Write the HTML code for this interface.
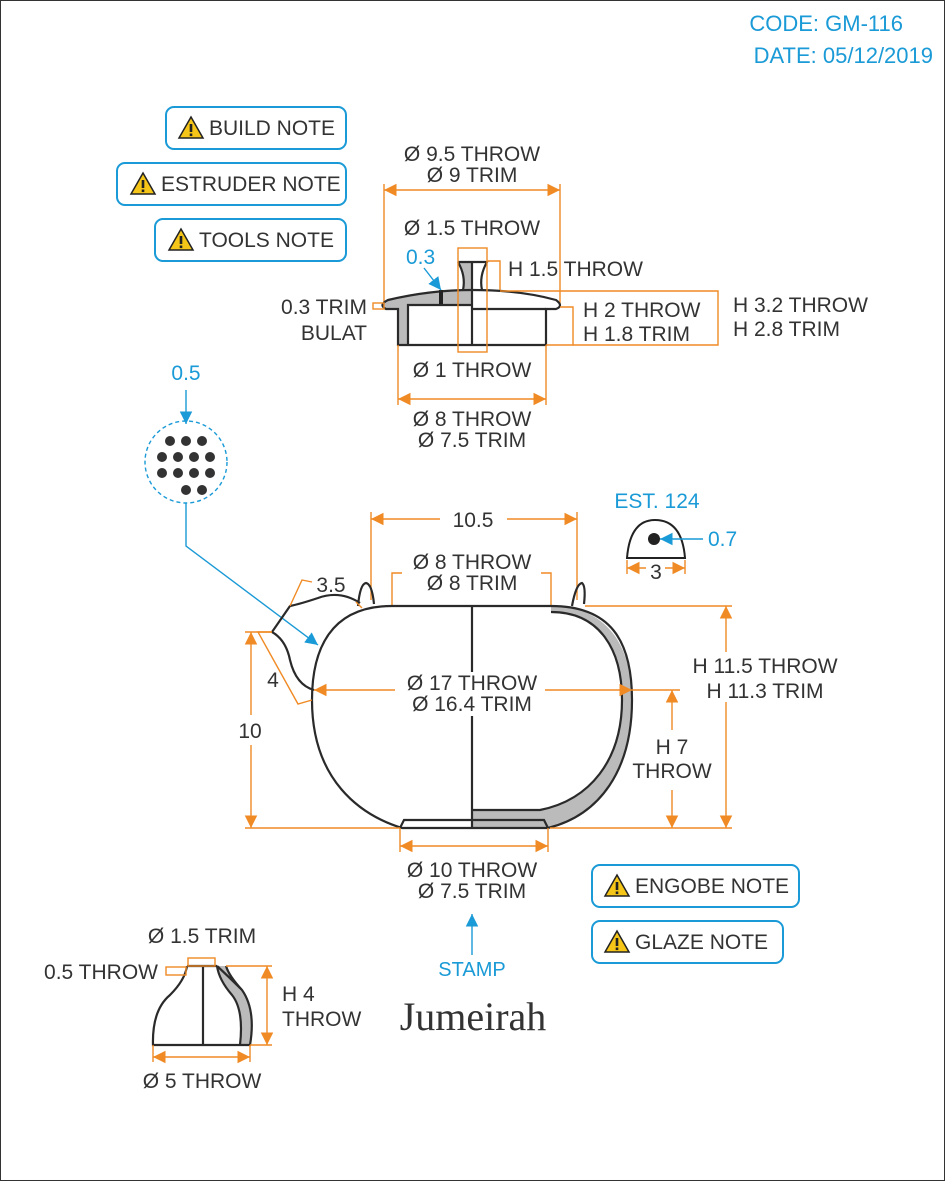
<!DOCTYPE html>
<html><head><meta charset="utf-8"><style>
html,body{margin:0;padding:0;background:#fff}
svg{display:block}
text{font-family:"Liberation Sans Narrow","Liberation Sans",sans-serif;font-size:21px;fill:#333}
.b{fill:#1a9ad6}
.o{stroke:#f08a24;stroke-width:1.4;fill:none}
.k{stroke:#2a2a2a;stroke-width:2.2;fill:none}
.bl{stroke:#1a9ad6;stroke-width:1.4;fill:none}
.nb{fill:#fff;stroke:#1a9ad6;stroke-width:2}
</style></head><body>
<svg width="946" height="1182" viewBox="0 0 946 1182">
<defs>
<marker id="ao" viewBox="0 0 10 10" refX="10" refY="5" markerWidth="9" markerHeight="9" orient="auto-start-reverse"><path d="M0,0 L10,5 L0,10 z" fill="#f08a24"/></marker>
<marker id="ab" viewBox="0 0 10 10" refX="10" refY="5" markerWidth="9" markerHeight="9" orient="auto-start-reverse"><path d="M0,0 L10,5 L0,10 z" fill="#1a9ad6"/></marker>
<g id="warn"><path d="M0,-11 L12,10 L-12,10 Z" fill="#f5c518" stroke="#222" stroke-width="1.5"/><rect x="-1.3" y="-4" width="2.6" height="8" fill="#222"/><rect x="-1.3" y="5.5" width="2.6" height="2.6" fill="#222"/></g>
</defs>
<rect x="0.5" y="0.5" width="944" height="1180" fill="#fff" stroke="#333" stroke-width="1"/>

<g>
<text x="903" y="31" text-anchor="end" class="b" style="font-size:22px">CODE: GM-116</text>
<text x="933" y="63" text-anchor="end" class="b" style="font-size:22px">DATE: 05/12/2019</text>
</g>

<g><rect class="nb" x="166" y="107" width="180" height="42" rx="8"/><use href="#warn" x="191" y="128"/><text x="209" y="135">BUILD NOTE</text></g>
<g><rect class="nb" x="117" y="163" width="229" height="42" rx="8"/><use href="#warn" x="143" y="184"/><text x="161" y="191">ESTRUDER NOTE</text></g>
<g><rect class="nb" x="155" y="219" width="191" height="42" rx="8"/><use href="#warn" x="181" y="240"/><text x="199" y="247">TOOLS NOTE</text></g>
<g><rect class="nb" x="592" y="865" width="207" height="42" rx="8"/><use href="#warn" x="617" y="886"/><text x="635" y="893">ENGOBE NOTE</text></g>
<g><rect class="nb" x="592" y="921" width="191" height="42" rx="8"/><use href="#warn" x="617" y="942"/><text x="635" y="949">GLAZE NOTE</text></g>

<!-- LID -->
<g>
<text x="472" y="161" text-anchor="middle">Ø 9.5 THROW</text>
<text x="472" y="182" text-anchor="middle">Ø 9 TRIM</text>
<line class="o" x1="384" y1="190" x2="560" y2="190" marker-start="url(#ao)" marker-end="url(#ao)"/>
<line class="o" x1="384" y1="184" x2="384" y2="305"/><line class="o" x1="560" y1="184" x2="560" y2="305"/>
<text x="472" y="235" text-anchor="middle">Ø 1.5 THROW</text>
<path d="M408,305 L408,345 L398,345 L398,309 L386,309 Q380,306 386,301 Q420,291 455,290 L463,290 Q466,276 458,262 L472,262 L472,305 Z" fill="#bbb"/>
<path class="k" d="M386,309 Q378,305 388,300 Q430,290 472,290 Q520,290 556,300 Q564,306 556,309 L546,309 L546,345 L398,345 L398,309 Z"/>
<path class="k" d="M408,345 L408,305 L472,305 M472,262 L472,345 M472,309 L546,309"/>
<path class="k" d="M458,262 L487,262 Q479,276 482,290 M458,262 Q466,276 463,290"/>
<rect x="439" y="290" width="4" height="14" fill="#222"/>
<rect class="o" x="458" y="248" width="29" height="104"/>
<path class="o" d="M487,261 L500,261 L500,290"/>
<text x="508" y="276">H 1.5 THROW</text>
<text x="406" y="264" class="b">0.3</text>
<line class="bl" x1="424" y1="268" x2="441" y2="290" marker-end="url(#ab)"/>
<rect class="o" x="373" y="303" width="11" height="6"/>
<text x="367" y="314" text-anchor="end">0.3 TRIM</text>
<text x="367" y="340" text-anchor="end">BULAT</text>
<path class="o" d="M560,307 L573,307 L573,345 L546,345"/>
<path class="o" d="M500,291 L718,291 L718,345 L573,345"/>
<text x="583" y="317">H 2 THROW</text>
<text x="583" y="341">H 1.8 TRIM</text>
<text x="733" y="312">H 3.2 THROW</text>
<text x="733" y="336">H 2.8 TRIM</text>
<line class="o" x1="398" y1="345" x2="398" y2="405"/><line class="o" x1="546" y1="345" x2="546" y2="405"/>
<text x="472" y="377" text-anchor="middle">Ø 1 THROW</text>
<line class="o" x1="398" y1="399" x2="546" y2="399" marker-start="url(#ao)" marker-end="url(#ao)"/>
<text x="472" y="426" text-anchor="middle">Ø 8 THROW</text>
<text x="472" y="447" text-anchor="middle">Ø 7.5 TRIM</text>
</g>

<!-- STRAINER -->
<g>
<text x="186" y="380" text-anchor="middle" class="b">0.5</text>
<line class="bl" x1="186" y1="390" x2="186" y2="424" marker-end="url(#ab)"/>
<circle cx="186" cy="462" r="41" fill="none" stroke="#1a9ad6" stroke-width="1.4" stroke-dasharray="4 3"/>
<g fill="#333">
<circle cx="170" cy="441" r="5"/><circle cx="186" cy="441" r="5"/><circle cx="202" cy="441" r="5"/>
<circle cx="162" cy="457" r="5"/><circle cx="178" cy="457" r="5"/><circle cx="194" cy="457" r="5"/><circle cx="210" cy="457" r="5"/>
<circle cx="162" cy="473" r="5"/><circle cx="178" cy="473" r="5"/><circle cx="194" cy="473" r="5"/><circle cx="210" cy="473" r="5"/>
<circle cx="186" cy="490" r="5"/><circle cx="202" cy="490" r="5"/>
</g>
<path class="bl" d="M186,503 L186,546 L318,645" marker-end="url(#ab)"/>
</g>

<!-- TEAPOT -->
<g>
<text x="473" y="527" text-anchor="middle">10.5</text>
<line class="o" x1="371" y1="519" x2="440" y2="519" marker-start="url(#ao)"/><line class="o" x1="507" y1="519" x2="577" y2="519" marker-end="url(#ao)"/>
<line class="o" x1="371" y1="512" x2="371" y2="600"/><line class="o" x1="577" y1="512" x2="577" y2="600"/>
<text x="472" y="569" text-anchor="middle">Ø 8 THROW</text>
<text x="472" y="590" text-anchor="middle">Ø 8 TRIM</text>
<path class="o" d="M392,606 L392,573 L402,573 M551,606 L551,573 L541,573"/>
<path d="M551,606 C610,606 632,650 632,700 C632,770 600,815 548,828 L472,828 L472,810 L540,810 C590,800 622,760 622,700 C622,650 600,612 551,612 Z" fill="#bbb"/>
<path class="k" d="M392,606 C330,606 312,650 312,700 C312,780 360,815 402,828 L548,828 C600,815 632,770 632,700 C632,640 610,606 551,606 Z"/>
<path class="k" d="M472,810 L540,810 C590,800 622,760 622,700 C622,650 600,612 551,612"/>
<path class="k" d="M400,828 L404,820 L544,820 L548,828"/>
<line class="k" x1="472" y1="606" x2="472" y2="828"/>
<path class="k" d="M358,606 Q360,584 366,583 Q372,584 374,604"/>
<path class="k" d="M572,606 Q576,584 582,583 Q586,586 584,604"/>
<path class="k" d="M360,603 Q340,590 318,598 Q300,604 290,606 L272,632 Q286,640 290,660 Q296,685 314,690"/>
<path class="o" d="M290,606 L302,580 L312,582 M356,602 L362,608"/>
<text x="331" y="592" text-anchor="middle">3.5</text>
<path class="o" d="M272,632 L258,632 L298,704 L312,700"/>
<text x="273" y="687" text-anchor="middle">4</text>
<rect x="400" y="672" width="145" height="44" fill="#fff"/>
<text x="472" y="690" text-anchor="middle">Ø 17 THROW</text>
<text x="472" y="711" text-anchor="middle">Ø 16.4 TRIM</text>
<line class="o" x1="314" y1="690" x2="395" y2="690" marker-start="url(#ao)"/>
<line class="o" x1="545" y1="690" x2="632" y2="690" marker-end="url(#ao)"/>
<line class="o" x1="632" y1="690" x2="680" y2="690"/>
<line class="o" x1="585" y1="606" x2="732" y2="606"/><line class="o" x1="550" y1="828" x2="732" y2="828"/>
<line class="o" x1="726" y1="606" x2="726" y2="828" marker-start="url(#ao)" marker-end="url(#ao)"/>
<rect x="695" y="652" width="140" height="50" fill="#fff"/>
<text x="765" y="673" text-anchor="middle">H 11.5 THROW</text>
<text x="765" y="698" text-anchor="middle">H 11.3 TRIM</text>
<line class="o" x1="672" y1="690" x2="672" y2="730" marker-start="url(#ao)"/>
<line class="o" x1="672" y1="790" x2="672" y2="828" marker-end="url(#ao)"/>
<text x="672" y="754" text-anchor="middle">H 7</text>
<text x="672" y="778" text-anchor="middle">THROW</text>
<line class="o" x1="245" y1="828" x2="400" y2="828"/><line class="o" x1="245" y1="632" x2="272" y2="632"/>
<line class="o" x1="251" y1="632" x2="251" y2="715" marker-start="url(#ao)"/>
<line class="o" x1="251" y1="745" x2="251" y2="828" marker-end="url(#ao)"/>
<text x="250" y="738" text-anchor="middle">10</text>
<line class="o" x1="400" y1="828" x2="400" y2="852"/><line class="o" x1="548" y1="828" x2="548" y2="852"/>
<line class="o" x1="400" y1="846" x2="548" y2="846" marker-start="url(#ao)" marker-end="url(#ao)"/>
<text x="472" y="877" text-anchor="middle">Ø 10 THROW</text>
<text x="472" y="898" text-anchor="middle">Ø 7.5 TRIM</text>
</g>

<g>
<text x="657" y="508" text-anchor="middle" class="b">EST. 124</text>
<path d="M627,558 Q630,520 655,520 Q682,520 685,558 Z" fill="#fff" stroke="#222" stroke-width="2"/>
<circle cx="654" cy="539" r="6" fill="#222"/>
<line class="bl" x1="703" y1="539" x2="660" y2="539" marker-end="url(#ab)"/>
<text x="708" y="546" class="b">0.7</text>
<line class="o" x1="627" y1="560" x2="627" y2="574"/><line class="o" x1="685" y1="560" x2="685" y2="574"/>
<line class="o" x1="627" y1="568" x2="646" y2="568" marker-start="url(#ao)"/><line class="o" x1="665" y1="568" x2="685" y2="568" marker-end="url(#ao)"/>
<text x="656" y="579" text-anchor="middle">3</text>
</g>

<g>
<line class="bl" x1="472" y1="955" x2="472" y2="914" marker-end="url(#ab)"/>
<text x="472" y="976" text-anchor="middle" class="b" style="font-size:20px">STAMP</text>
<text x="473" y="1030" text-anchor="middle" style="font-family:'Liberation Serif',serif;font-size:40px;fill:#333">Jumeirah</text>
</g>

<g>
<text x="202" y="943" text-anchor="middle">Ø 1.5 TRIM</text>
<path d="M217,966 Q219,980 232,995 Q244,1010 240,1045 L250,1045 Q256,1010 242,990 Q229,976 226,966 Z" fill="#bbb"/>
<path class="k" d="M187,966 L217,966 M187,966 Q185,980 170,995 Q152,1010 153,1045 L250,1045 Q256,1010 242,990 Q228,976 217,966 M226,966 Q229,976 242,990 M217,966 Q219,980 232,995 Q244,1010 240,1045"/>
<line class="k" x1="203" y1="966" x2="203" y2="1045"/>
<rect class="o" x="188" y="958" width="27" height="8"/>
<rect class="o" x="166" y="967" width="20" height="8"/>
<text x="158" y="979" text-anchor="end">0.5 THROW</text>
<line class="o" x1="226" y1="966" x2="272" y2="966"/><line class="o" x1="250" y1="1045" x2="272" y2="1045"/>
<line class="o" x1="267" y1="966" x2="267" y2="1045" marker-start="url(#ao)" marker-end="url(#ao)"/>
<text x="282" y="1001">H 4</text>
<text x="282" y="1026">THROW</text>
<line class="o" x1="153" y1="1045" x2="153" y2="1062"/><line class="o" x1="250" y1="1045" x2="250" y2="1062"/>
<line class="o" x1="153" y1="1057" x2="250" y2="1057" marker-start="url(#ao)" marker-end="url(#ao)"/>
<text x="202" y="1088" text-anchor="middle">Ø 5 THROW</text>
</g>
</svg>
</body></html>
